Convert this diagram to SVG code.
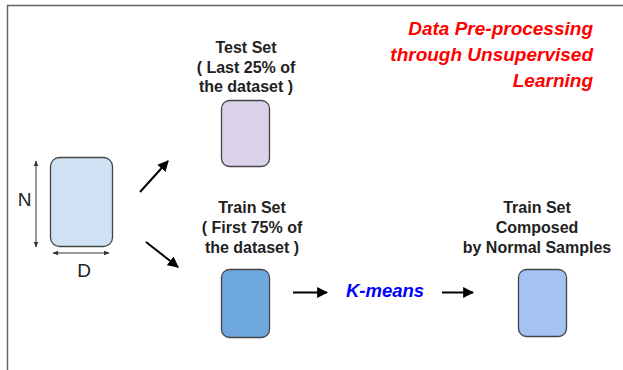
<svg xmlns="http://www.w3.org/2000/svg" width="623" height="370" viewBox="0 0 623 370">
<style>
.lbl{font-family:"Liberation Sans",Arial,sans-serif;font-weight:bold;font-size:16px;fill:#222;text-anchor:middle}
.box{stroke:#444;stroke-width:1.3}
.conn{stroke:#000;stroke-width:2;fill:none}
.dim{stroke:#333;stroke-width:1;fill:none}
.it{font-family:"Liberation Sans",Arial,sans-serif;font-weight:bold;font-style:italic}
.axl{font-family:"Liberation Sans",Arial,sans-serif;font-size:19px;fill:#222;text-anchor:middle}
</style>
<defs>
<marker id="ah" viewBox="0 0 10 10" refX="9" refY="5" markerWidth="5.5" markerHeight="5.5" orient="auto" markerUnits="strokeWidth"><path d="M0,0 L10,5 L0,10 z" fill="#000"/></marker>
<marker id="sh" viewBox="0 0 10 10" refX="9" refY="5" markerWidth="6" markerHeight="6" orient="auto-start-reverse" markerUnits="strokeWidth"><path d="M0,1 L10,5 L0,9 z" fill="#333"/></marker>
</defs>
<rect width="623" height="370" fill="#fff"/>
<path d="M623,5.5 H7.5 V370" fill="none" stroke="#666" stroke-width="1.5"/>
<g id="title">
<text class="it" font-size="19" fill="#ff0000" text-anchor="end"><tspan x="593" y="35">Data Pre-processing</tspan><tspan x="593" y="61">through Unsupervised</tspan><tspan x="593" y="87">Learning</tspan></text>
</g>
<g id="dataset">
<rect class="box" x="50.5" y="157.5" width="62" height="89" rx="9" fill="#cfe2f3"/>
<text class="axl" x="24.5" y="206">N</text>
<text class="axl" x="84" y="277">D</text>
<line class="dim" x1="36" y1="161" x2="36" y2="247" marker-start="url(#sh)" marker-end="url(#sh)"/>
<line class="dim" x1="53" y1="253" x2="109" y2="253" marker-start="url(#sh)" marker-end="url(#sh)"/>
</g>
<g id="test">
<text class="lbl"><tspan x="246" y="53">Test Set</tspan><tspan x="246" y="73">( Last 25% of</tspan><tspan x="246" y="92">the dataset )</tspan></text>
<rect class="box" x="221.5" y="100.5" width="48" height="66" rx="8" fill="#d9d2e9"/>
</g>
<g id="train">
<text class="lbl"><tspan x="252" y="213">Train Set</tspan><tspan x="252" y="233">( First 75% of</tspan><tspan x="252" y="253">the dataset )</tspan></text>
<rect class="box" x="221.5" y="269.5" width="48" height="68" rx="8" fill="#6fa8dc"/>
</g>
<g id="kmeans">
<text class="it" x="385" y="297" font-size="18.5" fill="#0000ff" text-anchor="middle">K-means</text>
</g>
<g id="normal">
<text class="lbl"><tspan x="537" y="213">Train Set</tspan><tspan x="537" y="233">Composed</tspan><tspan x="537" y="253">by Normal Samples</tspan></text>
<rect class="box" x="518.5" y="269.5" width="48" height="67" rx="8" fill="#a4c2f4"/>
</g>
<g id="connectors">
<line class="conn" x1="140" y1="192" x2="168" y2="161" marker-end="url(#ah)"/>
<line class="conn" x1="146" y1="242" x2="178" y2="267" marker-end="url(#ah)"/>
<line class="conn" x1="293" y1="292.5" x2="327" y2="292.5" marker-end="url(#ah)"/>
<line class="conn" x1="442" y1="292.5" x2="473" y2="292.5" marker-end="url(#ah)"/>
</g>
</svg>
